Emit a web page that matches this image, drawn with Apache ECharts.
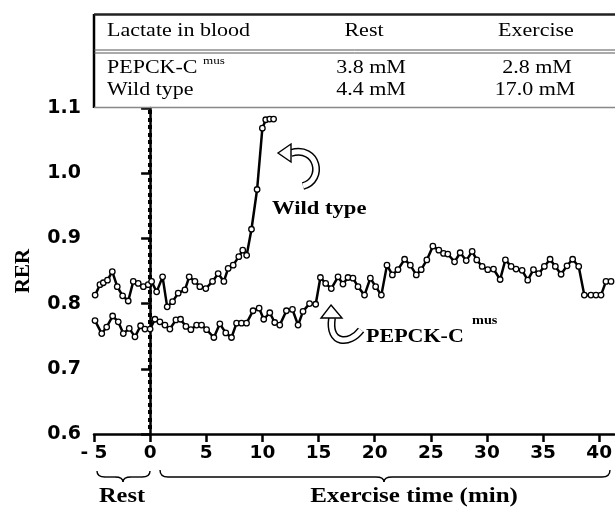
<!DOCTYPE html>
<html><head><meta charset="utf-8">
<script src="https://cdn.jsdelivr.net/npm/echarts@6/dist/echarts.min.js"></script>
<style>html,body{margin:0;padding:0;background:#fff}#c{width:615px;height:509px}</style>
</head><body><div id="c"></div>
<script>
const wtTime = [-4.9,-4.47,-4.17,-3.8,-3.37,-2.93,-2.45,-1.95,-1.5,-1.06,-0.6,-0.17,0.13,0.58,1.11,1.52,2.0,2.5,3.1,3.48,3.99,4.43,4.96,5.56,6.06,6.57,6.95,7.4,7.9,8.25,8.6,9.03,9.53,10.0,10.3,10.66,11.0];
const wtRER = [0.813,0.829,0.832,0.836,0.849,0.826,0.812,0.804,0.834,0.831,0.826,0.829,0.834,0.818,0.841,0.795,0.803,0.816,0.821,0.841,0.834,0.826,0.823,0.834,0.846,0.834,0.854,0.859,0.872,0.882,0.874,0.914,0.975,1.069,1.082,1.083,1.083];
const pkTime = [-4.91,-4.31,-3.87,-3.34,-2.84,-2.39,-1.86,-1.35,-0.85,-0.46,0.0,0.43,0.87,1.32,1.76,2.3,2.71,3.19,3.63,4.14,4.58,5.03,5.68,6.21,6.74,7.25,7.7,8.14,8.59,9.17,9.71,10.12,10.66,11.1,11.55,12.14,12.68,13.18,13.62,14.2,14.75,15.17,15.64,16.14,16.74,17.18,17.63,18.07,18.52,19.1,19.62,20.09,20.6,21.1,21.58,22.08,22.67,23.18,23.71,24.15,24.65,25.19,25.72,26.14,26.52,27.12,27.62,28.16,28.69,29.1,29.58,30.08,30.59,31.18,31.65,32.16,32.6,33.14,33.64,34.15,34.62,35.12,35.63,36.1,36.61,37.14,37.64,38.18,38.68,39.27,39.72,40.17,40.61,41.06];
const pkRER = [0.774,0.754,0.764,0.781,0.772,0.754,0.762,0.749,0.766,0.761,0.761,0.776,0.772,0.767,0.761,0.775,0.776,0.765,0.760,0.767,0.767,0.760,0.748,0.769,0.755,0.748,0.770,0.770,0.770,0.789,0.793,0.776,0.786,0.771,0.767,0.789,0.791,0.767,0.788,0.800,0.799,0.840,0.831,0.823,0.841,0.830,0.840,0.839,0.826,0.813,0.839,0.826,0.813,0.859,0.844,0.852,0.868,0.859,0.844,0.852,0.867,0.888,0.882,0.877,0.876,0.864,0.878,0.866,0.880,0.867,0.857,0.852,0.853,0.837,0.867,0.857,0.853,0.851,0.836,0.852,0.846,0.857,0.868,0.857,0.845,0.858,0.868,0.857,0.813,0.813,0.813,0.813,0.834,0.834];
const xTicks = [-5,0,5,10,15,20,25,30,35,40];
const yTicks = [0.6,0.7,0.8,0.9,1.0,1.1];
const exerciseStart = 0;
const tableHeader = ['Lactate in blood','Rest','Exercise'];
const tableRows = [['PEPCK-C','3.8 mM','2.8 mM'],['Wild type','4.4 mM','17.0 mM']];
const superscript = 'mus';
const labelRest = 'Rest';
const labelExercise = 'Exercise time (min)';
const labelWT = 'Wild type';
const labelPK = 'PEPCK-C';

const SX = 1.19;
function txt(x, y, text, size, bold, align) {
  return {
    type: 'text', x: x, y: y, scaleX: SX, z: 10,
    style: {
      text: text,
      font: (bold ? 'bold ' : '') + size + 'px "Liberation Serif"',
      textAlign: align || 'left',
      textVerticalAlign: 'middle',
      fill: '#000'
    }
  };
}
function line(x1, y1, x2, y2, w, c) {
  return {type: 'line', z: 10, shape: {x1: x1, y1: y1, x2: x2, y2: y2}, style: {stroke: c || '#000', lineWidth: w}};
}
function quad(x1, y1, cx, cy, x2, y2, w, c, z) {
  return {type: 'bezierCurve', z: z || 10, shape: {x1: x1, y1: y1, x2: x2, y2: y2, cpx1: cx, cpy1: cy},
    style: {stroke: c || '#000', lineWidth: w, fill: null}};
}
function cubic(p, w, c, z) {
  return {type: 'bezierCurve', z: z, shape: {x1: p[0], y1: p[1], cpx1: p[2], cpy1: p[3], cpx2: p[4], cpy2: p[5], x2: p[6], y2: p[7]},
    style: {stroke: c, lineWidth: w, fill: null, lineCap: 'butt'}};
}
function brace(x1, x2, cx, y0, y1, y2) {
  const r = 8, w = 1.4;
  return [
    quad(x1, y0, x1, y1, x1 + r, y1, w),
    line(x1 + r, y1, cx - r, y1, w),
    quad(cx - r, y1, cx, y1, cx, y2, w),
    quad(cx, y2, cx, y1, cx + r, y1, w),
    line(cx + r, y1, x2 - r, y1, w),
    quad(x2 - r, y1, x2, y1, x2, y0, w)
  ];
}
function hollowArrow(p, head) {
  return [
    cubic(p, 8, '#000', 11),
    cubic(p, 5, '#fff', 12),
    {type: 'polygon', z: 13, shape: {points: head}, style: {stroke: '#000', lineWidth: 1.4, fill: '#fff'}}
  ];
}

const graphics = [
  line(94, 14, 94, 108, 2.5),
  line(94, 14.5, 615, 14.5, 2.5, '#222'),
  line(94, 50, 615, 50, 1, '#555'),
  line(94, 53, 615, 53, 1, '#555'),
  line(94, 107.5, 615, 107.5, 1.5, '#888'),
  txt(107, 31, tableHeader[0], 18.5, false, 'left'),
  txt(364, 31, tableHeader[1], 18.5, false, 'center'),
  txt(536, 31, tableHeader[2], 18.5, false, 'center'),
  txt(107, 68, tableRows[0][0], 18.5, false, 'left'),
  txt(203, 61, superscript, 11, false, 'left'),
  txt(371, 68, tableRows[0][1], 18.5, false, 'center'),
  txt(537, 68, tableRows[0][2], 18.5, false, 'center'),
  txt(107, 90, tableRows[1][0], 18.5, false, 'left'),
  txt(371, 90, tableRows[1][1], 18.5, false, 'center'),
  txt(535, 90, tableRows[1][2], 18.5, false, 'center'),
  txt(122, 497, labelRest, 20.5, true, 'center'),
  txt(414, 497, labelExercise, 21, true, 'center'),
  txt(272, 209, labelWT, 19, true, 'left'),
  txt(366, 337, labelPK, 18.5, true, 'left'),
  txt(472, 321, superscript, 12, true, 'left')
].concat(
  brace(97, 150, 123, 471, 477, 482),
  brace(160, 610, 384, 470, 477, 482),
  hollowArrow([291,153, 318,145, 325,180, 303,186], [[278,153],[291,144],[291,162]]),
  hollowArrow([332,318, 328,345, 350,345, 361,330], [[331,305],[342,318],[321,318]])
);

const chart = echarts.init(document.getElementById('c'), null, {renderer: 'canvas'});
chart.setOption({
  animation: false,
  backgroundColor: '#fff',
  grid: {left: 94, right: 0, top: 108, bottom: 75},
  xAxis: {
    type: 'value', min: -5, max: 41.34, interval: 5,
    axisLine: {show: true, lineStyle: {color: '#000', width: 2.5}},
    axisTick: {show: true, length: 8, lineStyle: {color: '#000', width: 2.5}, customValues: xTicks},
    axisLabel: {
      customValues: xTicks, margin: 10, color: '#000',
      fontFamily: 'DejaVu Sans', fontWeight: 'bold', fontSize: 18.5,
      formatter: function (v) { return v < 0 ? '- ' + Math.abs(v) : String(v); }
    },
    splitLine: {show: false}
  },
  yAxis: {
    type: 'value', min: 0.6, max: 1.1, interval: 0.1,
    name: 'RER', nameLocation: 'middle', nameRotate: 90, nameGap: 60,
    nameTextStyle: {fontFamily: 'Liberation Serif', fontWeight: 'bold', fontSize: 21, color: '#000'},
    axisLine: {show: true, lineStyle: {color: '#000', width: 2.5}},
    axisTick: {show: true, length: 9, lineStyle: {color: '#000', width: 2.5}, customValues: yTicks},
    axisLabel: {
      customValues: yTicks, margin: 13, color: '#000',
      fontFamily: 'DejaVu Sans', fontWeight: 'bold', fontSize: 19,
      formatter: function (v) { return v.toFixed(1); }
    },
    splitLine: {show: false}
  },
  series: [
    {
      type: 'line', name: 'Wild type',
      data: wtTime.map(function (t, i) { return [t, wtRER[i]]; }),
      symbol: 'circle', symbolSize: 5.5, showAllSymbol: true, z: 3,
      lineStyle: {color: '#000', width: 2.5},
      itemStyle: {color: '#fff', borderColor: '#000', borderWidth: 1.3}
    },
    {
      type: 'line', name: 'PEPCK-C mus',
      data: pkTime.map(function (t, i) { return [t, pkRER[i]]; }),
      symbol: 'circle', symbolSize: 5.5, showAllSymbol: true, z: 3,
      lineStyle: {color: '#000', width: 2.5},
      itemStyle: {color: '#fff', borderColor: '#000', borderWidth: 1.3}
    }
  ],
  graphic: graphics
});

// dotted marker line at exercise start, positioned through the axis scales
const pTop = chart.convertToPixel({gridIndex: 0}, [exerciseStart, yTicks[yTicks.length - 1]]);
const pBot = chart.convertToPixel({gridIndex: 0}, [exerciseStart, yTicks[0]]);
const dots = [];
for (let y = pTop[1] + 2; y < pBot[1] - 3; y += 7.5) {
  dots.push({type: 'rect', z: 2, shape: {x: Math.round(pTop[0]) - 2, y: Math.round(y), width: 4, height: 4}, style: {fill: '#000'}});
}
chart.setOption({graphic: graphics.concat(dots)});
</script></body></html>
